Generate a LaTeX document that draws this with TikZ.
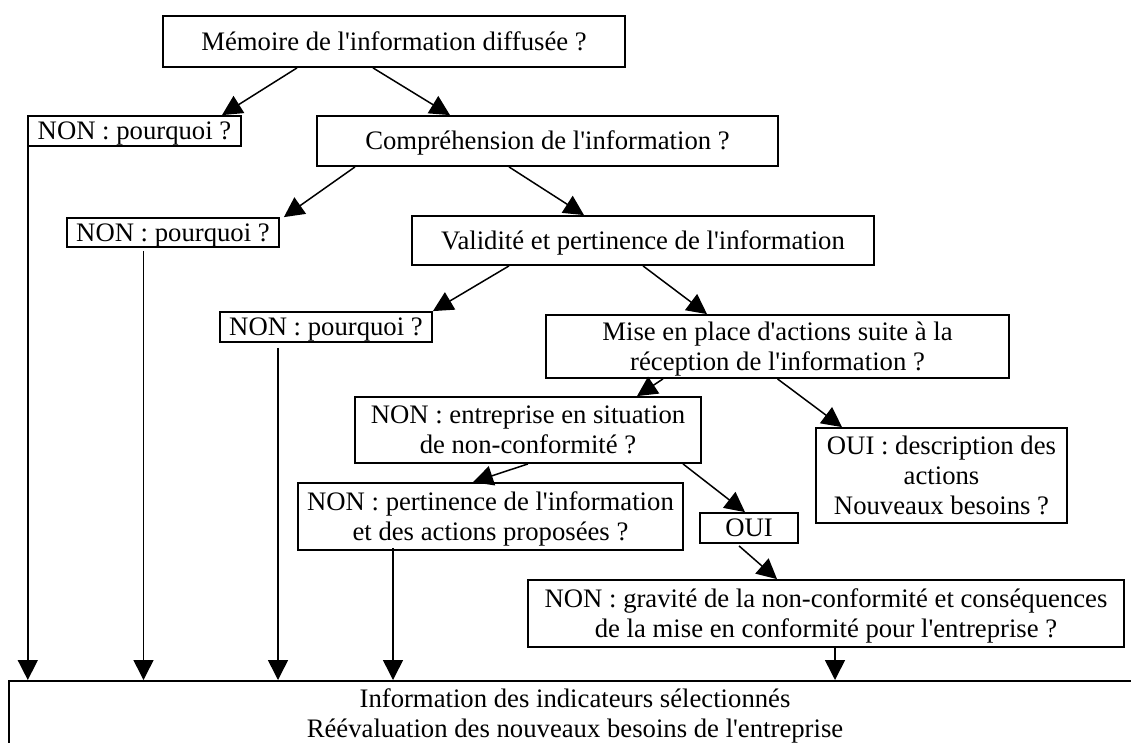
\documentclass[tikz,border=0pt]{standalone}
\usepackage{fontspec}
\setmainfont{Liberation Serif}
\usetikzlibrary{arrows.meta}
\newcommand{\ap}{\textquotesingle}
\newcommand{\tl}[1]{\begin{tabular}[t]{@{}c@{}}#1\end{tabular}}
\begin{document}
\begin{tikzpicture}[x=1pt,y=-1pt,
  box/.style={draw, line width=1.8pt, inner sep=0pt, text height=17.7pt, text depth=0pt, font=\fontsize{26.7}{30}\selectfont},
  two/.style={text depth=30pt},
  three/.style={text depth=60pt},
  arr/.style={line width=1.5pt, -{Triangle[length=20pt,width=20pt]}}]
\useasboundingbox (0,0) rectangle (1131,742);
\node[box, minimum width=462pt, minimum height=51pt] (m) at (394,41.5) {Mémoire de l\ap information diffusée ?};
\node[box, minimum width=213pt, minimum height=30pt] (non1) at (134.5,131) {NON : pourquoi ?};
\node[box, minimum width=461pt, minimum height=50pt] (comp) at (547.5,141) {Compréhension de l\ap information ?};
\node[box, minimum width=212pt, minimum height=29pt] (non2) at (173,232.5) {NON : pourquoi ?};
\node[box, minimum width=462pt, minimum height=49pt] (valid) at (643,240.5) {Validité et pertinence de l\ap information};
\node[box, minimum width=212pt, minimum height=30pt] (non3) at (326,327) {NON : pourquoi ?};
\node[box, two, minimum width=463pt, minimum height=63pt] (mise) at (777.5,346.5) {\tl{Mise en place d\ap actions suite à la\\réception de l\ap information ?}};
\node[box, two, minimum width=346pt, minimum height=66pt] (nonent) at (528,430) {\tl{NON : entreprise en situation\\de non-conformité ?}};
\node[box, three, minimum width=251pt, minimum height=95pt] (ouidesc) at (941.5,475.5) {\tl{OUI : description des\\actions\\Nouveaux besoins ?}};
\node[box, two, minimum width=385pt, minimum height=67pt] (nonpert) at (490.5,516.5) {\tl{NON : pertinence de l\ap information\\et des actions proposées ?}};
\node[box, minimum width=98pt, minimum height=30pt] (oui) at (749,528) {OUI};
\node[box, two, minimum width=596pt, minimum height=67pt] (grav) at (826,613.5) {\tl{NON : gravité de la non-conformité et conséquences\\de la mise en conformité pour l\ap entreprise ?}};
\node[box, anchor=north, minimum width=1132pt, text height=26.7pt, text depth=70pt] (final) at (575,680) {\tl{Information des indicateurs sélectionnés\\Réévaluation des nouveaux besoins de l\ap entreprise}};

\draw[arr] ([xshift=-97pt]m.south) -- ([xshift=87.5pt]non1.north);
\draw[arr] ([xshift=-21pt]m.south) -- ([xshift=-97.5pt]comp.north);
\draw[arr] ([xshift=-192.5pt]comp.south) -- ([xshift=4pt]non2.north east);
\draw[arr] ([xshift=-38.5pt]comp.south) -- ([xshift=-59pt]valid.north);
\draw[arr] ([xshift=-134pt]valid.south) -- (non3.north east);
\draw[arr] (valid.south) -- ([xshift=-70.5pt]mise.north);
\draw[arr] ([xshift=-114.5pt]mise.south) -- ([xshift=109pt]nonent.north);
\draw[arr] (mise.south) -- ([xshift=-99.5pt]ouidesc.north);
\draw[arr] (nonent.south) -- ([xshift=-17.5pt]nonpert.north);
\draw[arr] ([xshift=155pt]nonent.south) -- ([xshift=-4pt]oui.north);
\draw[arr] ([xshift=-10pt,yshift=-2pt]oui.south) -- ([xshift=-49pt]grav.north);
\draw[arr] ([xshift=9pt]grav.south) -- ([xshift=9pt]grav.south |- final.north);
\draw[arr] ([xshift=0.7pt]non1.south west) -- ([xshift=0.7pt]non1.south west |- final.north);
\draw[arr] ([xshift=-29.5pt,yshift=-3pt]non2.south) -- ([xshift=-29.5pt]non2.south |- final.north);
\draw[arr] ([xshift=-48pt,yshift=-5pt]non3.south) -- ([xshift=-48pt]non3.south |- final.north);
\draw[arr] ([xshift=-97.5pt,yshift=3pt]nonpert.south) -- ([xshift=-97.5pt]nonpert.south |- final.north);
\end{tikzpicture}
\end{document}
